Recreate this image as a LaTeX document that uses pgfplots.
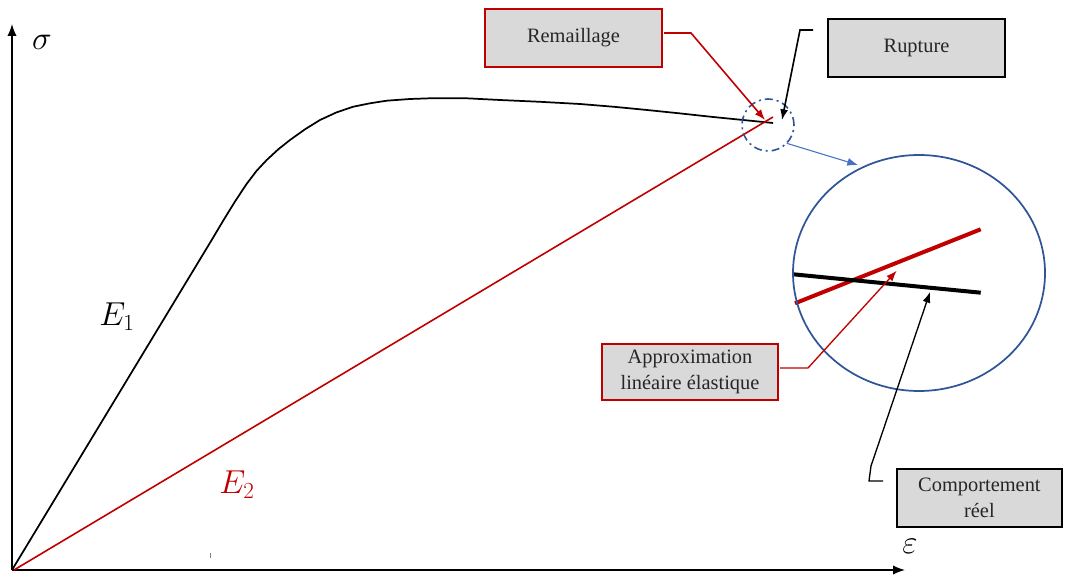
\documentclass[border=0pt]{standalone}
\usepackage{fontspec}
\setmainfont{Liberation Serif}
\newfontfamily\boxfont{Liberation Serif}
\usepackage{pgfplots}
\pgfplotsset{compat=1.18}
\usetikzlibrary{arrows.meta}
\definecolor{cred}{HTML}{C00000}
\definecolor{cgray}{HTML}{D9D9D9}
\definecolor{cdblue}{HTML}{2F5597}
\definecolor{clblue}{HTML}{4472C4}
\begin{document}
\begin{tikzpicture}
\begin{axis}[
  scale only axis,
  width=669.75pt, height=409.5pt,
  xmin=0, xmax=893, ymin=0, ymax=546,
  axis lines=left,
  axis line style={line width=1.1pt},
  every outer x axis line/.append style={-{Latex[length=9pt,width=7pt]}},
  every outer y axis line/.append style={-{Latex[length=9pt,width=7pt]}},
  xtick=\empty, ytick=\empty,
  clip=false,
]
% bounding box = 1067 x 574 px
\path (axis cs:-12,-4) rectangle (axis cs:1055,570);

% real behaviour (black)
\addplot[black, line width=1.3pt, line join=round] coordinates {
  (0,0) (199.7,330) (211.3,349.5) (223,368.5) (234.7,386.2) (244.7,399.3)
  (254.7,410) (266.3,420.7) (278,430) (293,440.7) (308,450) (324.7,457.7)
  (341.3,463.3) (358,466.7) (374.7,469.3) (398,471) (418,471.7) (454.7,471.7)
  (488,470) (528,468.2) (568,466) (602,463.2) (635,460) (668,456.6) (701,453)
  (731,450) (761,447)
};
% linear elastic approximation (red)
\addplot[cred, line width=1.2pt] coordinates {(2,0) (761,453)};

% zoom lines in big circle
\addplot[cred, line width=3pt] coordinates {(783,266.7) (968.7,340.7)};
\addplot[black, line width=3pt] coordinates {(781.3,295.7) (968.7,277.3)};

% tiny tick
\draw[gray, line width=0.6pt] (axis cs:198,12) -- (axis cs:198,17);

% labels
\node[font=\fontsize{26}{30}\selectfont] at (axis cs:30,528) {$\sigma$};
\node[font=\fontsize{26}{30}\selectfont] at (axis cs:898,24) {$\varepsilon$};
\node[font=\fontsize{26}{30}\selectfont] at (axis cs:105,253) {$E_1$};
\node[font=\fontsize{26}{30}\selectfont, text=cred] at (axis cs:225,85) {$E_2$};

% dash-dot circle
\draw[cdblue, line width=1.2pt, dash pattern=on 6pt off 3pt on 1.5pt off 3pt]
  (axis cs:756,445) ellipse [x radius=19.5pt, y radius=19.5pt];
% blue arrow
\draw[clblue, line width=0.8pt, -{Latex[length=8pt,width=6pt]}] (axis cs:774.7,426.7) -- (axis cs:846,405);
% big circle
\draw[cdblue, line width=1.3pt] (axis cs:907,297) ellipse [x radius=94.5pt, y radius=88.5pt];

% boxes
\tikzset{box/.style={draw, line width=1.3pt, fill=cgray, inner sep=0pt, align=center,
  font=\boxfont\fontsize{15.3}{20}\selectfont, text=black!85}}
\node[box, draw=cred, minimum width=132.7pt, minimum height=43.5pt] at (axis cs:561.5,532) {Remaillage};
\node[box, draw=black, minimum width=132.7pt, minimum height=43.5pt] at (axis cs:904.5,522) {Rupture};
\node[box, draw=cred, minimum width=132.5pt, minimum height=42pt] at (axis cs:678,198) {Approximation\\lin\'eaire \'elastique};
\node[box, draw=black, minimum width=124pt, minimum height=43pt] at (axis cs:967.4,72) {Comportement\\r\'eel};

% leaders
\draw[cred, line width=1.2pt, -{Latex[length=8pt,width=6pt]}]
  (axis cs:652,537) -- (axis cs:679,537) -- (axis cs:753,450);
\draw[black, line width=1.2pt, -{Latex[length=8pt,width=6pt]}]
  (axis cs:801,540) -- (axis cs:788,540) -- (axis cs:770,450);
\draw[cred, line width=1.0pt, -{Latex[length=8pt,width=6pt]}]
  (axis cs:768,202) -- (axis cs:796,202) -- (axis cs:884.7,299.3);
\draw[black, line width=1.0pt, -{Latex[length=8pt,width=6pt]}]
  (axis cs:871,89) -- (axis cs:857,89) -- (axis cs:859,104) -- (axis cs:918,278);
\end{axis}
\end{tikzpicture}
\end{document}
